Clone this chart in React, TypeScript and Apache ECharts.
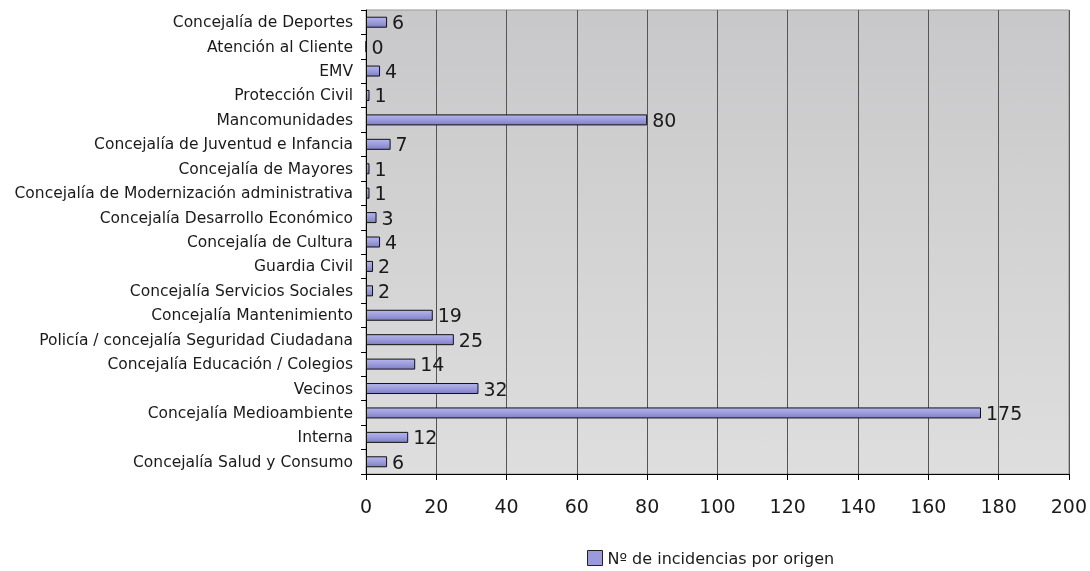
import React, { useEffect, useRef } from "react";
import * as echarts from "echarts";

const categories = [
  "Concejalía de Deportes",
  "Atención al Cliente",
  "EMV",
  "Protección Civil",
  "Mancomunidades",
  "Concejalía de Juventud e Infancia",
  "Concejalía de Mayores",
  "Concejalía de Modernización administrativa",
  "Concejalía Desarrollo Económico",
  "Concejalía de Cultura",
  "Guardia Civil",
  "Concejalía Servicios Sociales",
  "Concejalía Mantenimiento",
  "Policía / concejalía Seguridad Ciudadana",
  "Concejalía Educación / Colegios",
  "Vecinos",
  "Concejalía Medioambiente",
  "Interna",
  "Concejalía Salud y Consumo",
];

const values = [6, 0, 4, 1, 80, 7, 1, 1, 3, 4, 2, 2, 19, 25, 14, 32, 175, 12, 6];

const seriesName = "Nº de incidencias por origen";

const xMin = 0;
const xMax = 200;
const xInterval = 20;

export default function App() {
  const ref = useRef<HTMLDivElement>(null);

  useEffect(() => {
    if (!ref.current) return;
    const chart = echarts.init(ref.current, undefined, { renderer: "svg" });
    const font = "DejaVu Sans";
    chart.setOption({
      animation: false,
      textStyle: { fontFamily: font },
      legend: {
        left: 582,
        top: 545,
        itemWidth: 15,
        itemHeight: 15,
        itemGap: 4,
        icon: "rect",
        textStyle: { fontSize: 16, color: "#1a1a1a", fontFamily: font },
        data: [
          {
            name: seriesName,
            itemStyle: { color: "#9b9bd9", borderColor: "#222", borderWidth: 1 },
          },
        ],
      },
      grid: {
        left: 366,
        right: 20,
        top: 10,
        bottom: 97,
        show: true,
        borderColor: "#999",
        borderWidth: 1,
        backgroundColor: new echarts.graphic.LinearGradient(0, 0, 0, 1, [
          { offset: 0, color: "#c8c8ca" },
          { offset: 1, color: "#dedede" },
        ]),
      },
      xAxis: {
        type: "value",
        min: xMin,
        max: xMax,
        interval: xInterval,
        axisLine: { show: true, lineStyle: { color: "#000", width: 1 } },
        axisTick: { show: true, length: 6, lineStyle: { color: "#000" } },
        axisLabel: { fontSize: 19, color: "#1a1a1a", margin: 22, fontFamily: font },
        splitLine: { show: true, lineStyle: { color: "#555", width: 1 } },
      },
      yAxis: {
        type: "category",
        data: categories,
        inverse: true,
        axisLine: { show: true, lineStyle: { color: "#000", width: 1 } },
        axisTick: { show: true, length: 5, lineStyle: { color: "#000" } },
        axisLabel: { fontSize: 15.5, color: "#1a1a1a", margin: 13, fontFamily: font },
        splitLine: { show: false },
      },
      series: [
        {
          name: seriesName,
          type: "bar",
          data: values,
          barWidth: 11,
          itemStyle: {
            color: new echarts.graphic.LinearGradient(0, 0, 0, 1, [
              { offset: 0, color: "#b4b4ec" },
              { offset: 0.5, color: "#9c9cdc" },
              { offset: 1, color: "#7f7fc4" },
            ]),
            borderColor: "#111",
            borderWidth: 1,
          },
          label: {
            show: true,
            position: "right",
            distance: 5,
            fontSize: 19,
            color: "#1a1a1a",
            fontFamily: font,
          },
        },
      ],
    });
    return () => chart.dispose();
  }, []);

  return (
    <div
      ref={ref}
      style={{ position: "fixed", left: 0, top: 0, width: 1090, height: 571 }}
    />
  );
}
